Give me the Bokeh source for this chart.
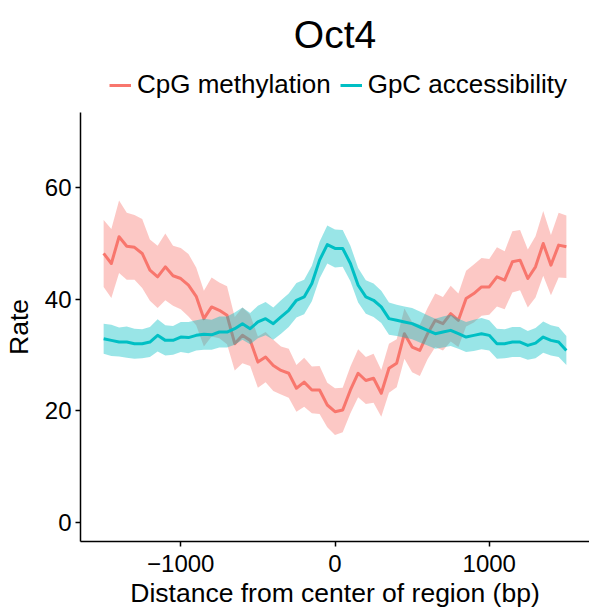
from bokeh.plotting import figure
from bokeh.models import Legend, LegendItem, FixedTicker
from bokeh.layouts import column
from bokeh.embed import file_html
from bokeh.resources import INLINE

# ---- data ----
positions = list(range(-1500, 1501, 50))

cpg_mean = [48.2, 46.4, 51.2, 49.5, 49.3, 48.2, 45.2, 44.0, 45.8, 44.2,
            43.7, 42.5, 40.5, 36.5, 38.6, 38.0, 37.1, 32.0, 33.5, 32.6,
            28.7, 29.6, 28.1, 27.2, 26.7, 24.0, 25.1, 23.7, 23.7, 21.0,
            19.8, 20.1, 23.7, 26.7, 25.4, 25.8, 23.1, 27.6, 28.5, 33.8,
            31.4, 30.8, 33.8, 36.2, 35.6, 37.4, 36.2, 40.1, 41.0, 42.2,
            42.2, 44.0, 43.4, 46.7, 47.0, 43.7, 45.8, 50.0, 46.1, 49.7,
            49.4]
cpg_se = [6.0, 6.2, 6.5, 6.0, 5.8, 6.2, 5.5, 5.6, 6.0, 5.4,
          5.5, 5.6, 5.2, 5.0, 5.3, 5.0, 5.2, 4.8, 5.0, 4.6,
          4.6, 4.5, 4.6, 4.3, 4.4, 4.2, 4.4, 4.2, 4.3, 4.0,
          4.2, 4.0, 4.2, 4.3, 4.2, 4.4, 4.2, 4.4, 4.3, 4.5,
          4.5, 4.6, 4.6, 4.8, 4.8, 5.0, 4.8, 5.0, 5.2, 5.2,
          5.0, 5.3, 5.2, 5.5, 5.4, 5.2, 5.5, 5.8, 5.4, 5.8,
          5.6]

gpc_mean = [32.9, 32.6, 32.3, 32.3, 32.0, 32.0, 32.3, 33.5, 32.6, 32.6,
            33.2, 33.1, 33.5, 33.7, 33.6, 34.1, 34.1, 34.7, 35.6, 34.7,
            35.9, 36.5, 35.6, 36.8, 38.0, 39.8, 40.4, 42.8, 47.0, 49.8,
            49.1, 49.1, 46.4, 42.5, 40.4, 39.8, 38.6, 36.5, 36.2, 35.9,
            35.6, 35.0, 34.4, 33.8, 34.1, 34.4, 33.8, 33.2, 33.5, 33.8,
            33.5, 32.0, 32.0, 32.3, 32.3, 31.7, 32.1, 33.2, 32.6, 32.3,
            30.8]
gpc_se = [2.7, 2.8, 2.6, 2.8, 2.7, 2.6, 2.7, 2.9, 2.7, 2.6,
          2.7, 2.8, 2.7, 2.8, 2.7, 2.8, 2.8, 2.9, 2.9, 2.8,
          2.9, 3.0, 2.9, 3.0, 3.0, 3.1, 3.1, 3.2, 3.3, 3.4,
          3.4, 3.3, 3.2, 3.1, 3.0, 3.0, 2.9, 2.9, 2.8, 2.8,
          2.8, 2.8, 2.7, 2.7, 2.8, 2.8, 2.7, 2.7, 2.8, 2.8,
          2.7, 2.7, 2.6, 2.7, 2.7, 2.6, 2.7, 2.8, 2.7, 2.7,
          2.6]

series_names = ["CpG methylation", "GpC accessibility"]
x_ticks = [-1000, 0, 1000]
y_ticks = [0, 20, 40, 60]

RED = "#F8766D"
TEAL = "#00BFC4"
FONT = "Liberation Sans"

# ---- header figure: title + legend (series drawn off-frame, only keys show) ----
top = figure(width=589, height=112, x_range=(5000, 5001), y_range=(500, 501),
             output_backend="svg", toolbar_location=None,
             x_axis_location=None, y_axis_location=None,
             min_border_left=79, min_border_right=0, min_border_top=55,
             min_border_bottom=0)
top.outline_line_color = None
top.xgrid.visible = False
top.ygrid.visible = False
top.background_fill_color = "white"
top.border_fill_color = "white"
top.title.text = "Oct4"
top.title.align = "center"
top.title.text_font = FONT
top.title.text_font_size = "39px"
top.title.text_font_style = "normal"
top.title.text_color = "black"
top.title.standoff = 0

k1 = top.line(positions, cpg_mean, line_color=RED, line_width=3)
k2 = top.line(positions, gpc_mean, line_color=TEAL, line_width=3)
legend = Legend(items=[LegendItem(label=series_names[0], renderers=[k1]),
                       LegendItem(label=series_names[1], renderers=[k2])],
                orientation="horizontal", location=(29, 12))
legend.label_text_font = FONT
legend.label_text_font_size = "26px"
legend.label_text_color = "black"
legend.glyph_width = 22
legend.glyph_height = 24
legend.label_height = 24
legend.label_standoff = 6
legend.spacing = 9
legend.padding = 0
legend.margin = 0
legend.border_line_color = None
legend.background_fill_alpha = 0
top.add_layout(legend, "center")

# ---- main plot ----
p = figure(width=589, height=498, x_range=(-1650, 1650), y_range=(-3.5, 73.5),
           output_backend="svg", toolbar_location=None, title_location=None,
           min_border_left=79, min_border_right=0, min_border_top=0,
           min_border_bottom=69)
p.background_fill_color = "white"
p.border_fill_color = "white"
p.outline_line_color = None
p.xgrid.visible = False
p.ygrid.visible = False

cpg_lo = [m - s for m, s in zip(cpg_mean, cpg_se)]
cpg_hi = [m + s for m, s in zip(cpg_mean, cpg_se)]
gpc_lo = [m - s for m, s in zip(gpc_mean, gpc_se)]
gpc_hi = [m + s for m, s in zip(gpc_mean, gpc_se)]

p.varea(x=positions, y1=cpg_lo, y2=cpg_hi, fill_color=RED, fill_alpha=0.4)
p.line(positions, cpg_mean, line_color=RED, line_width=3, line_join="round")
p.varea(x=positions, y1=gpc_lo, y2=gpc_hi, fill_color=TEAL, fill_alpha=0.4)
p.line(positions, gpc_mean, line_color=TEAL, line_width=3, line_join="round")

for ax in (p.xaxis[0], p.yaxis[0]):
    ax.axis_line_color = "black"
    ax.axis_line_width = 1.5
    ax.major_tick_line_color = "black"
    ax.major_tick_line_width = 1.5
    ax.major_tick_in = 0
    ax.major_tick_out = 5
    ax.minor_tick_line_color = None
    ax.major_label_text_font = FONT
    ax.major_label_text_font_size = "24px"
    ax.major_label_text_color = "black"
    ax.axis_label_text_font = FONT
    ax.axis_label_text_font_size = "26.5px"
    ax.axis_label_text_font_style = "normal"
    ax.axis_label_text_color = "black"

p.yaxis.major_label_standoff = 4
p.xaxis.major_label_standoff = 8
p.xaxis.ticker = FixedTicker(ticks=x_ticks)
p.yaxis.ticker = FixedTicker(ticks=y_ticks)
p.xaxis.major_label_overrides = {t: (("\u2212" + str(abs(t))) if t < 0 else str(t)) for t in x_ticks}
p.xaxis.axis_label = "Distance from center of region (bp)"
p.yaxis.axis_label = "Rate"
p.xaxis.axis_label_standoff = 3
p.yaxis.axis_label_standoff = 8

layout = column(top, p, spacing=0)
open("out.html", "w").write(file_html(layout, INLINE))
